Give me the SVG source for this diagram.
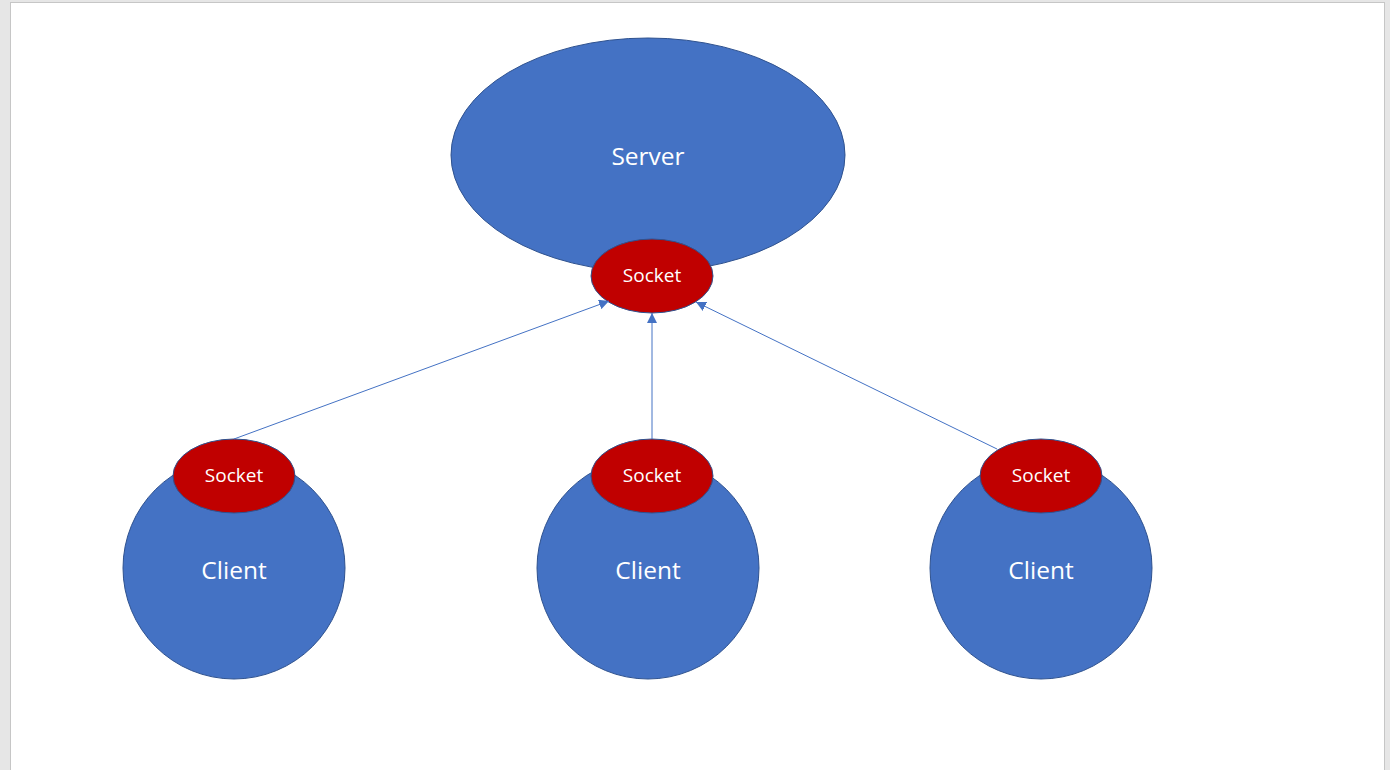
<svg xmlns="http://www.w3.org/2000/svg" width="1390" height="770" viewBox="0 0 1390 770">
<style>
.blue{fill:#4472C4;stroke:#2F528F;stroke-width:1}
.red{fill:#C00000;stroke:#2F528F;stroke-width:1}
.big{font-family:"Open Sans","Noto Sans",sans-serif;font-size:24.5px;fill:#fff;text-anchor:middle;dominant-baseline:central}
.small{font-family:"Open Sans","Noto Sans",sans-serif;font-size:19px;fill:#fff;text-anchor:middle;dominant-baseline:central}
.conn{stroke:#4472C4;stroke-width:1;fill:none;marker-end:url(#arr)}
</style>
<defs>
<marker id="arr" viewBox="0 0 10 10" refX="10" refY="5" markerWidth="10" markerHeight="10" markerUnits="userSpaceOnUse" orient="auto">
<path d="M0,0 L10,5 L0,10 Z" fill="#4472C4"/>
</marker>
</defs>
<rect x="0" y="0" width="1390" height="770" fill="#e6e6e6"/>
<rect x="10.5" y="2.5" width="1374" height="780" fill="#fff" stroke="#c6c6c6" stroke-width="1"/>
<g id="server">
<ellipse class="blue" cx="648" cy="155" rx="197" ry="117"/>
<text class="big" x="648" y="155">Server</text>
</g>
<g id="client1">
<circle class="blue" cx="234" cy="568" r="111"/>
<text class="big" x="234" y="569">Client</text>
</g>
<g id="client2">
<circle class="blue" cx="648" cy="568" r="111"/>
<text class="big" x="648" y="569">Client</text>
</g>
<g id="client3">
<circle class="blue" cx="1041" cy="568" r="111"/>
<text class="big" x="1041" y="569">Client</text>
</g>
<g id="server-socket">
<ellipse class="red" cx="652" cy="276" rx="61" ry="37"/>
<text class="small" x="652" y="275">Socket</text>
</g>
<g id="socket1">
<ellipse class="red" cx="234" cy="476" rx="61" ry="37"/>
<text class="small" x="234" y="475">Socket</text>
</g>
<g id="socket2">
<ellipse class="red" cx="652" cy="476" rx="61" ry="37"/>
<text class="small" x="652" y="475">Socket</text>
</g>
<g id="socket3">
<ellipse class="red" cx="1041" cy="476" rx="61" ry="37"/>
<text class="small" x="1041" y="475">Socket</text>
</g>
<g id="connectors">
<line class="conn" x1="234" y1="439" x2="609" y2="301"/>
<line class="conn" x1="652" y1="439" x2="652" y2="313"/>
<line class="conn" x1="997" y1="449" x2="696" y2="302"/>
</g>
</svg>
